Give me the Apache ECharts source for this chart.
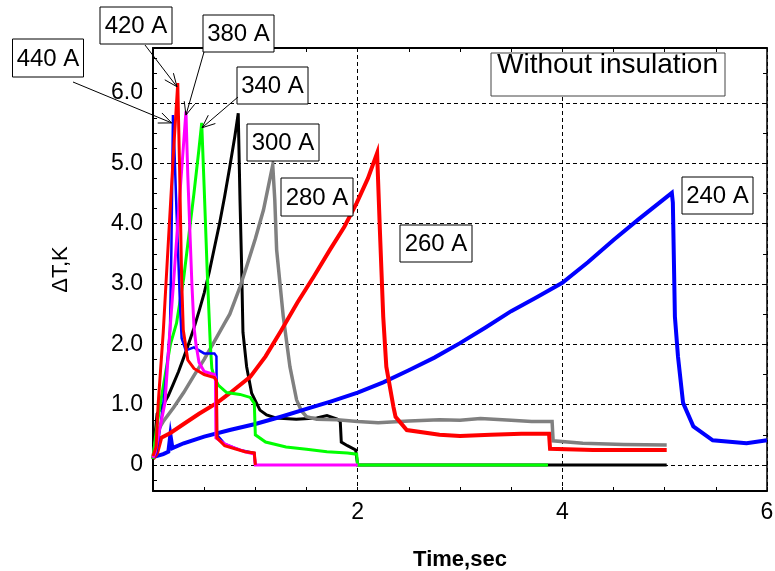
<!DOCTYPE html>
<html><head><meta charset="utf-8">
<script src="https://cdn.jsdelivr.net/npm/echarts@6/dist/echarts.min.js"></script>
<style>html,body{margin:0;padding:0;background:#fff}#c{width:775px;height:571px}</style>
</head><body><div id="c"></div>
<script>
// ---- data (time in s, ΔT in K) ----
const yTickLabels = [0, 1, 2, 3, 4, 5, 6];
const xTickLabels = [2, 4, 6];

const black300 = [[0,0.1],[0.02,0.5],[0.04,0.85],[0.07,0.92],[0.1,1.0],[0.15,1.15],[0.2,1.35],[0.25,1.55],[0.3,1.78],[0.35,2.02],[0.4,2.27],[0.45,2.55],[0.5,2.85],[0.55,3.2],[0.6,3.6],[0.65,4.0],[0.7,4.45],[0.75,4.94],[0.8,5.45],[0.833,5.83],[0.85,4.4],[0.866,3.3],[0.879,2.2],[0.915,1.63],[0.964,1.19],[1.045,0.91],[1.11,0.83],[1.2,0.78],[1.4,0.76],[1.6,0.78],[1.7,0.82],[1.8,0.76],[1.83,0.72],[1.84,0.38],[1.9,0.32],[1.98,0.25],[2.0,0],[5.02,0]];
const gray280 = [[0,0.12],[0.02,0.35],[0.05,0.58],[0.1,0.72],[0.2,0.95],[0.3,1.2],[0.4,1.48],[0.5,1.75],[0.6,2.05],[0.7,2.35],[0.75,2.5],[0.85,2.95],[0.915,3.29],[1.0,3.75],[1.08,4.23],[1.17,4.97],[1.19,4.4],[1.208,3.57],[1.273,2.46],[1.338,1.63],[1.403,1.08],[1.45,0.9],[1.5,0.8],[1.6,0.76],[1.8,0.75],[2.0,0.72],[2.2,0.7],[2.5,0.73],[2.8,0.75],[3.0,0.74],[3.2,0.77],[3.5,0.74],[3.7,0.72],[3.9,0.72],[3.91,0.4],[4.2,0.36],[4.6,0.34],[5.02,0.33]];
const blue240 = [[0,0.13],[0.1,0.18],[0.15,0.22],[0.17,0.5],[0.19,0.28],[0.3,0.36],[0.5,0.47],[0.75,0.58],[1.0,0.68],[1.25,0.8],[1.5,0.93],[1.75,1.06],[2.0,1.2],[2.25,1.37],[2.5,1.57],[2.75,1.78],[3.0,2.02],[3.25,2.28],[3.5,2.55],[3.75,2.78],[4.0,3.02],[4.25,3.36],[4.5,3.73],[4.75,4.08],[5.07,4.51],[5.08,4.35],[5.1,2.46],[5.13,1.8],[5.18,1.03],[5.28,0.64],[5.47,0.41],[5.8,0.36],[6.0,0.41]];
const red260 = [[0,0.1],[0.04,0.2],[0.08,0.45],[0.17,0.53],[0.3,0.68],[0.45,0.85],[0.625,1.03],[0.75,1.19],[0.95,1.46],[1.1,1.8],[1.25,2.22],[1.41,2.69],[1.57,3.12],[1.73,3.57],[1.87,3.95],[1.99,4.34],[2.1,4.75],[2.19,5.17],[2.218,3.85],[2.25,2.45],[2.28,1.63],[2.35,0.96],[2.37,0.8],[2.48,0.58],[2.8,0.5],[3.0,0.48],[3.3,0.5],[3.6,0.52],[3.87,0.52],[3.88,0.27],[4.3,0.25],[4.7,0.25],[5.02,0.25]];
const green340 = [[0,0.1],[0.03,0.55],[0.07,1.0],[0.12,1.5],[0.17,2.0],[0.23,2.35],[0.3,3.1],[0.35,3.8],[0.4,4.5],[0.45,5.25],[0.476,5.67],[0.5,4.6],[0.53,3.2],[0.56,2.0],[0.575,1.6],[0.6,1.45],[0.64,1.32],[0.72,1.2],[0.85,1.17],[0.95,1.12],[0.99,1.02],[1.0,0.5],[1.1,0.38],[1.3,0.3],[1.5,0.26],[1.7,0.22],[1.9,0.2],[1.99,0.18],[2.0,0],[3.86,0]];
const blue440 = [[0,0.12],[0.03,0.2],[0.06,0.5],[0.1,1.0],[0.13,1.5],[0.166,2.24],[0.18,3.6],[0.195,5.8],[0.21,5.2],[0.23,4.2],[0.25,3.3],[0.265,2.6],[0.28,2.1],[0.32,1.9],[0.4,1.95],[0.5,1.85],[0.6,1.85],[0.62,1.8],[0.625,0.5],[0.7,0.35],[0.85,0.25],[0.99,0.2],[1.0,0]];
const magenta380 = [[0,0.12],[0.02,0.2],[0.06,0.55],[0.09,0.8],[0.117,1.03],[0.14,1.6],[0.166,2.24],[0.2,3.0],[0.25,4.2],[0.3,5.35],[0.322,5.86],[0.34,4.8],[0.36,3.9],[0.38,3.0],[0.4,2.3],[0.42,2.0],[0.45,1.7],[0.5,1.55],[0.6,1.5],[0.61,1.45],[0.615,0.45],[0.7,0.35],[0.8,0.28],[0.9,0.22],[0.99,0.18],[1.0,0],[2.0,0]];
const red420 = [[0,0.15],[0.03,0.3],[0.05,1.0],[0.1,2.2],[0.15,3.7],[0.2,5.18],[0.242,6.33],[0.26,4.9],[0.28,3.07],[0.296,2.24],[0.34,1.74],[0.4,1.6],[0.5,1.5],[0.6,1.45],[0.62,1.4],[0.625,0.45],[0.7,0.32],[0.8,0.27],[0.9,0.22],[0.99,0.2],[1.0,0]];

const seriesDefs = [
  {name:'300 A', data:black300, color:'#000000', width:3},
  {name:'280 A', data:gray280, color:'#808080', width:3.5},
  {name:'240 A', data:blue240, color:'#0000ff', width:4},
  {name:'260 A', data:red260, color:'#ff0000', width:4},
  {name:'340 A', data:green340, color:'#00ff00', width:3},
  {name:'440 A', data:blue440, color:'#0000ff', width:2.5},
  {name:'380 A', data:magenta380, color:'#ff00ff', width:3},
  {name:'420 A', data:red420, color:'#ff0000', width:3}
];

// annotation boxes (pixel layout) and arrows (tip in data coords)
const boxTexts = ['440 A','420 A','380 A','340 A','300 A','280 A','260 A','240 A'];
const boxRects = [[12.5,39,71,38],[100,7,72,37],[203,15,71,37],[237,67,71,37],[247,124,72,37],[281,178,72,38],[400,225,72,37],[682,177,71,37]];
const arrowTails = [[73,82],[145,45],[204,52],[238,97]];
const arrowTips = [[0.183,5.67],[0.234,6.27],[0.322,5.8],[0.479,5.59]];
const noteText = 'Without insulation';

const FONT = '"Liberation Sans", Arial, sans-serif';
const YMIN = -0.431, YMAX = 6.912;
const leftTicks = [], rightTicks = [];
for (let v = -0.25; v <= 6.9; v += 0.25) leftTicks.push(+v.toFixed(2));
for (let v = 0; v <= 6.9; v += 0.5) rightTicks.push(+v.toFixed(2));

const chart = echarts.init(document.getElementById('c'), null, {renderer:'canvas'});
const option = {
  animation:false,
  backgroundColor:'#fff',
  grid:{left:153, right:8, top:48, bottom:80, containLabel:false, outerBoundsMode:'none'},
  xAxis:[
    {type:'value', position:'bottom', min:0, max:6, interval:0.5,
     axisLine:{show:true, onZero:false, lineStyle:{color:'#000', width:2}},
     axisTick:{show:true, inside:true, length:4, lineStyle:{color:'#000'}},
     axisLabel:{show:true, customValues:xTickLabels, margin:10, fontSize:23, color:'#000', fontFamily:FONT, formatter:v=>String(v)},
     splitLine:{show:false},
     name:'Time,sec', nameLocation:'middle', nameGap:58,
     nameTextStyle:{fontSize:22, fontWeight:'bold', color:'#000', fontFamily:FONT}},
    {type:'value', position:'top', min:0, max:6, interval:0.5,
     axisLine:{show:true, onZero:false, lineStyle:{color:'#000', width:2}},
     axisTick:{show:true, inside:true, length:4, lineStyle:{color:'#000'}},
     axisLabel:{show:false}, splitLine:{show:false}},
    {type:'value', position:'bottom', min:0, max:6, interval:2,
     axisLine:{show:false}, axisTick:{show:false}, axisLabel:{show:false},
     splitLine:{show:true, lineStyle:{color:'#000', width:1, type:[4,3]}}}
  ],
  yAxis:[
    {type:'value', position:'left', min:YMIN, max:YMAX,
     axisLine:{show:true, onZero:false, lineStyle:{color:'#000', width:2}},
     axisTick:{show:true, inside:true, length:4, customValues:leftTicks, lineStyle:{color:'#000'}},
     axisLabel:{show:true, customValues:yTickLabels, margin:10, fontSize:23, color:'#000', fontFamily:FONT,
       formatter:v=> v===0 ? '0' : (v===6 ? '{up|6.0}' : v.toFixed(1)),
       rich:{up:{fontSize:23, fontFamily:FONT, color:'#000', padding:[0,0,20,0]}}},
     splitLine:{show:false},
     name:'\u0394T,K', nameLocation:'middle', nameGap:81, nameRotate:90,
     nameTextStyle:{fontSize:22, color:'#000', fontFamily:FONT}},
    {type:'value', position:'right', min:YMIN, max:YMAX,
     axisLine:{show:true, onZero:false, lineStyle:{color:'#000', width:1.5}},
     axisTick:{show:true, inside:true, length:4, customValues:rightTicks, lineStyle:{color:'#000'}},
     axisLabel:{show:false}, splitLine:{show:false}},
    {type:'value', position:'left', min:YMIN, max:YMAX,
     axisLine:{show:false},
     axisTick:{show:false, customValues:yTickLabels},
     axisLabel:{show:false, customValues:yTickLabels},
     splitLine:{show:true, lineStyle:{color:'#000', width:1, type:[4,3]}}}
  ],
  series: seriesDefs.map(s=>({
    name:s.name, type:'line', xAxisIndex:0, yAxisIndex:0, data:s.data,
    showSymbol:false, symbol:'none', clip:true,
    lineStyle:{color:s.color, width:s.width, join:'miter'}, itemStyle:{color:s.color},
    z:3
  }))
};
chart.setOption(option);

// annotations
const g = [];
boxRects.forEach((r,i)=>{
  g.push({type:'rect', shape:{x:r[0], y:r[1], width:r[2], height:r[3]},
    style:{fill:'#fff', stroke:'#000', lineWidth:1}, z:100});
  g.push({type:'text', x:r[0]+r[2]/2, y:r[1]+r[3]/2+1,
    style:{text:boxTexts[i], font:'24px '+FONT, fill:'#000', align:'center', verticalAlign:'middle'}, z:101});
});
g.push({type:'rect', shape:{x:491, y:53, width:234, height:43},
  style:{fill:'#fff', stroke:'#444', lineWidth:1}, z:100});
g.push({type:'text', x:497, y:65,
  style:{text:noteText, font:'28px '+FONT, fill:'#000', align:'left', verticalAlign:'middle'}, z:101});
arrowTips.forEach((tp,i)=>{
  const tip = chart.convertToPixel({xAxisIndex:0, yAxisIndex:0}, tp);
  const tail = arrowTails[i];
  const ang = Math.atan2(tail[1]-tip[1], tail[0]-tip[0]);
  const L = 14, a = 0.4;
  g.push({type:'line', shape:{x1:tail[0], y1:tail[1], x2:tip[0], y2:tip[1]}, style:{stroke:'#000', lineWidth:1}, z:102});
  g.push({type:'polyline', shape:{points:[[tip[0]+L*Math.cos(ang+a), tip[1]+L*Math.sin(ang+a)],[tip[0],tip[1]],[tip[0]+L*Math.cos(ang-a), tip[1]+L*Math.sin(ang-a)]]}, style:{stroke:'#000', lineWidth:1, fill:null}, z:102});
});
chart.setOption({graphic:g});
</script>
</body></html>
